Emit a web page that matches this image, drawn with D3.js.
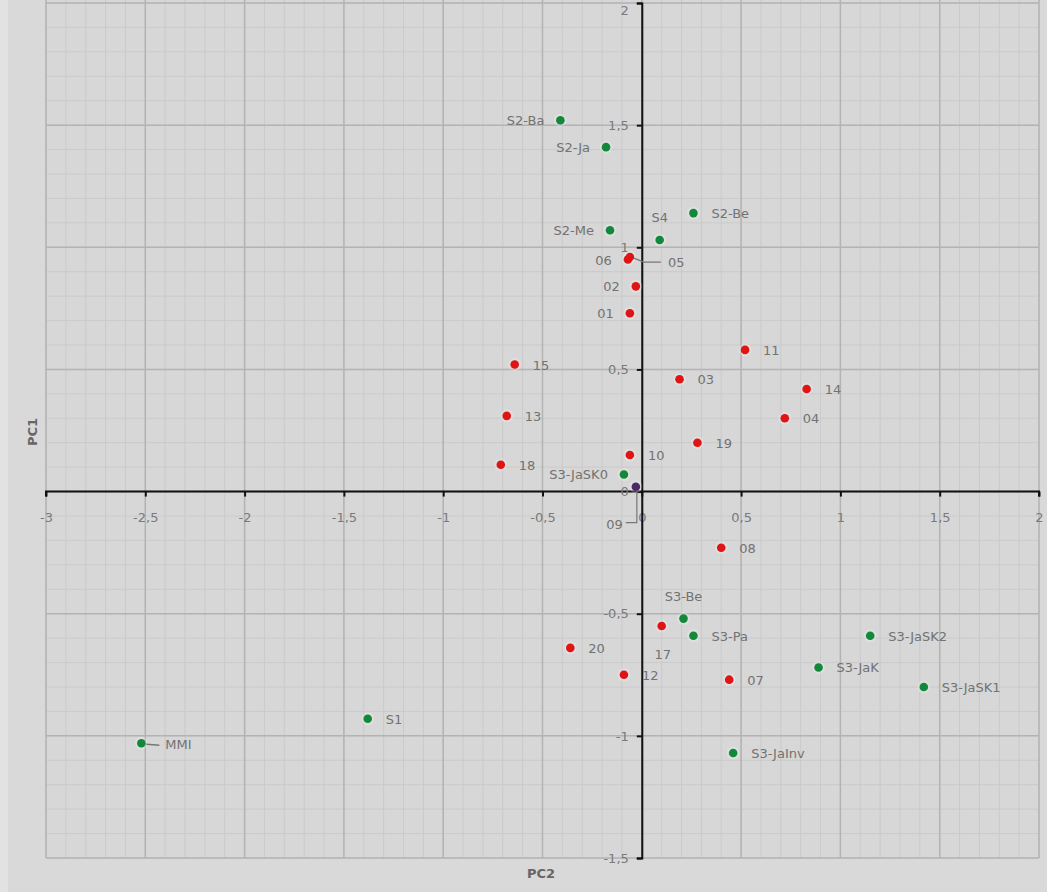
<!DOCTYPE html>
<html><head><meta charset="utf-8">
<script src="https://cdn.jsdelivr.net/npm/d3@7"></script>
<style>
html,body{margin:0;padding:0;background:#d9d9d9;}
svg{display:block;font-family:"DejaVu Sans",sans-serif;}
</style></head>
<body>
<svg id="chart" width="1047" height="892"></svg>
<script>
// Data
const names = ["S2-Ba","S2-Ja","S2-Be","S4","S2-Me","S3-JaSK0","S3-Be","S3-Pa","S3-JaSK2","S3-JaK","S3-JaSK1","S3-JaInv","S1","MMI",
  "06","05","02","01","11","15","03","14","13","04","19","10","18","09","08","17","20","12","07"];
const pc2 = [-0.41,-0.18,0.26,0.09,-0.16,-0.09,0.21,0.26,1.15,0.89,1.42,0.46,-1.38,-2.52,
  -0.07,-0.06,-0.03,-0.06,0.52,-0.64,0.19,0.83,-0.68,0.72,0.28,-0.06,-0.71,-0.03,0.40,0.10,-0.36,-0.09,0.44];
const pc1 = [1.52,1.41,1.14,1.03,1.07,0.07,-0.52,-0.59,-0.59,-0.72,-0.80,-1.07,-0.93,-1.03,
  0.95,0.96,0.84,0.73,0.58,0.52,0.46,0.42,0.31,0.30,0.20,0.15,0.11,0.02,-0.23,-0.55,-0.64,-0.75,-0.77];
const groups = ["S","S","S","S","S","S","S","S","S","S","S","S","S","S",
  "O","O","O","O","O","O","O","O","O","O","O","O","O","X","O","O","O","O","O"];
const labelSide = ["left","left","right","above","left","left","above","right","right","right","right","right","right","leader",
  "left","leaderlong","left","left","right","right","right","right","right","right","right","right","right","leaderdown","right","below","right","right","right"];
const xTicks = [-3,-2.5,-2,-1.5,-1,-0.5,0,0.5,1,1.5,2];
const yTicks = [-1.5,-1,-0.5,0,0.5,1,1.5,2];
const xTitle = "PC2", yTitle = "PC1";

const colors = {S:"#12893a", O:"#e01414", X:"#4a2a66"};
const svg = d3.select("#chart");
const x = d3.scaleLinear().domain([-3,2]).range([46,1039]);
const y = d3.scaleLinear().domain([-1.5,2]).range([858,3]);
const fmt = v => String(v).replace(".",",");

svg.append("rect").attr("x",0).attr("y",0).attr("width",8).attr("height",892).attr("fill","#e2e2e2");
svg.append("rect").attr("x",x(-3)).attr("y",0).attr("width",x(2)-x(-3)).attr("height",y(-1.5)).attr("fill","#d7d7d7");

// grid
const minorX = d3.range(-30,21).map(d=>d/10);
const minorY = d3.range(-15,21).map(d=>d/10);
const g = svg.append("g");
g.selectAll(".mx").data(minorX).join("line").attr("x1",d=>x(d)).attr("x2",d=>x(d)).attr("y1",0).attr("y2",y(-1.5))
  .attr("stroke","#cacaca").attr("stroke-width",1);
g.selectAll(".my").data(minorY).join("line").attr("y1",d=>y(d)).attr("y2",d=>y(d)).attr("x1",x(-3)).attr("x2",x(2))
  .attr("stroke","#cacaca").attr("stroke-width",1);
g.selectAll(".Mx").data(xTicks).join("line").attr("x1",d=>x(d)).attr("x2",d=>x(d)).attr("y1",0).attr("y2",y(-1.5))
  .attr("stroke","#b3b3b3").attr("stroke-width",1.5);
g.selectAll(".My").data(yTicks).join("line").attr("y1",d=>y(d)).attr("y2",d=>y(d)).attr("x1",x(-3)).attr("x2",x(2))
  .attr("stroke","#b3b3b3").attr("stroke-width",1.5);

// axes through origin
const xAxis = d3.axisBottom(x).tickValues(xTicks).tickSize(5).tickFormat(fmt);
const yAxis = d3.axisLeft(y).tickValues(yTicks).tickSize(5).tickFormat(fmt);
const gx = svg.append("g").attr("transform",`translate(0,${y(0)})`).call(xAxis);
const gy = svg.append("g").attr("transform",`translate(${x(0)},0)`).call(yAxis);
[gx,gy].forEach(a=>{
  a.select(".domain").attr("stroke","#111").attr("stroke-width",2);
  a.selectAll(".tick line").attr("stroke","#111").attr("stroke-width",2);
  a.selectAll(".tick text").attr("fill","#7a7a7a").attr("font-size",13).attr("font-family","DejaVu Sans, sans-serif");
});
gx.selectAll(".tick text").attr("y",21);
gy.selectAll(".tick text").attr("x",-13);
gy.selectAll(".tick text").filter(d=>d===2).attr("dy","0.9em");
gx.select(".domain").attr("d",`M${x(-3)},5V0H${x(2)}V5`);

// titles
svg.append("text").attr("x",541).attr("y",878).attr("text-anchor","middle").attr("font-size",13).attr("font-weight","bold").attr("fill","#666").text(xTitle);
svg.append("text").attr("transform","translate(37,432) rotate(-90)").attr("text-anchor","middle").attr("font-size",13).attr("font-weight","bold").attr("fill","#666").text(yTitle);

// points
const data = names.map((n,i)=>({n, px:pc2[i], py:pc1[i], g:groups[i], side:labelSide[i]}));
const pts = svg.append("g");
pts.selectAll(".halo").data(data).join("circle").attr("cx",d=>x(d.px)).attr("cy",d=>y(d.py)).attr("r",6.5)
  .attr("fill","#ffffff").attr("opacity",0.2);
pts.selectAll(".dot").data(data).join("circle").attr("cx",d=>x(d.px)).attr("cy",d=>y(d.py)).attr("r",4.3)
  .attr("fill",d=>colors[d.g]);

// labels
const lab = svg.append("g").attr("font-size",13).attr("fill","#727272");
data.forEach(d=>{
  const cx = x(d.px), cy = y(d.py);
  if (d.side==="right") lab.append("text").attr("x",cx+18).attr("y",cy+5).text(d.n);
  else if (d.side==="left") lab.append("text").attr("x",cx-16).attr("y",cy+5).attr("text-anchor","end").text(d.n);
  else if (d.side==="above") lab.append("text").attr("x",cx).attr("y",cy-18).attr("text-anchor","middle").text(d.n);
  else if (d.side==="below") lab.append("text").attr("x",cx+1).attr("y",cy+33).attr("text-anchor","middle").text(d.n);
  else if (d.side==="leader") {
    lab.append("line").attr("x1",cx+5).attr("x2",cx+18).attr("y1",cy+1).attr("y2",cy+2).attr("stroke","#777").attr("stroke-width",1.5);
    lab.append("text").attr("x",cx+24).attr("y",cy+6).text(d.n);
  } else if (d.side==="leaderlong") {
    lab.append("path").attr("d",`M${cx+4},${cy+1}L${cx+14},${cy+5}H${cx+31}`).attr("fill","none").attr("stroke","#777").attr("stroke-width",1.3);
    lab.append("text").attr("x",cx+38).attr("y",cy+10).text(d.n);
  } else if (d.side==="leaderdown") {
    lab.append("path").attr("d",`M${cx+1},${cy+4}V${cy+36}H${cx-10}`).attr("fill","none").attr("stroke","#777").attr("stroke-width",1.2);
    lab.append("text").attr("x",cx-13).attr("y",cy+42).attr("text-anchor","end").text(d.n);
  }
});
</script>
</body></html>
